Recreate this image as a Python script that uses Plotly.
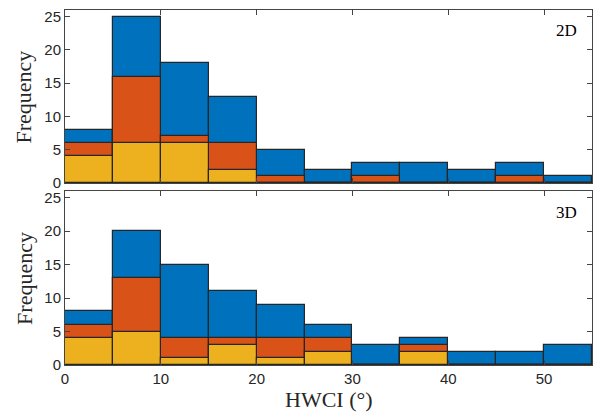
import plotly.graph_objects as go

bin_edges_start = [0, 5, 10, 15, 20, 25, 30, 35, 40, 45, 50]
bin_width = 5

# 2D panel (overlaid histograms)
blue_2d = [8, 25, 18, 13, 5, 2, 3, 3, 2, 3, 1]
orange_2d = [6, 16, 7, 6, 1, 0, 1, 0, 0, 1, 0]
yellow_2d = [4, 6, 6, 2, 0, 0, 0, 0, 0, 0, 0]

# 3D panel
blue_3d = [8, 20, 15, 11, 9, 6, 3, 4, 2, 2, 3]
orange_3d = [6, 13, 4, 4, 4, 4, 0, 3, 0, 0, 0]
yellow_3d = [4, 5, 1, 3, 1, 2, 0, 2, 0, 0, 0]

colors = ["#0072BD", "#D95319", "#EDB120"]
edge = "#262626"
centers = [s + bin_width / 2 for s in bin_edges_start]

fig = go.Figure()
for series, col in zip([blue_2d, orange_2d, yellow_2d], colors):
    fig.add_trace(go.Bar(x=centers, y=series, width=bin_width, marker_color=col,
                         marker_line=dict(color=edge, width=1.2),
                         xaxis="x", yaxis="y", showlegend=False))
for series, col in zip([blue_3d, orange_3d, yellow_3d], colors):
    fig.add_trace(go.Bar(x=centers, y=series, width=bin_width, marker_color=col,
                         marker_line=dict(color=edge, width=1.2),
                         xaxis="x2", yaxis="y2", showlegend=False))

tickfont = dict(family="Liberation Sans, Arial, sans-serif", size=15, color="#262626")
serif = "Liberation Serif, Times New Roman, serif"
axis_common = dict(showline=True, linecolor="#444444", linewidth=1, mirror="ticks",
                   ticks="inside", ticklen=5, tickcolor="#444444", tickwidth=1,
                   showgrid=False, zeroline=False, tickfont=tickfont, automargin=False)

title_font = dict(family=serif, size=22, color="#262626")

fig.update_layout(
    width=593, height=412,
    margin=dict(l=65, r=1, t=10, b=47),
    barmode="overlay",
    bargap=0,
    plot_bgcolor="white", paper_bgcolor="white",
    xaxis=dict(domain=[0, 1], range=[0, 55], anchor="y", showticklabels=False,
               tickvals=[0, 10, 20, 30, 40, 50], **axis_common),
    yaxis=dict(domain=[0.5127, 1], range=[0, 26], anchor="x",
               tickvals=[0, 5, 10, 15, 20, 25], **axis_common),
    xaxis2=dict(domain=[0, 1], range=[0, 55], anchor="y2",
                tickvals=[0, 10, 20, 30, 40, 50], **axis_common),
    yaxis2=dict(domain=[0, 0.49], range=[0, 26], anchor="x2",
                tickvals=[0, 5, 10, 15, 20, 25], **axis_common),
    annotations=[
        dict(text="2D", xref="x domain", yref="y domain", x=0.975, y=0.88,
             xanchor="right", yanchor="middle", showarrow=False,
             font=dict(family=serif, size=17, color="black")),
        dict(text="3D", xref="x2 domain", yref="y2 domain", x=0.975, y=0.875,
             xanchor="right", yanchor="middle", showarrow=False,
             font=dict(family=serif, size=17, color="black")),
        dict(text="Frequency", xref="paper", yref="paper", x=-0.078, y=0.756,
             xanchor="center", yanchor="middle", textangle=-90, showarrow=False,
             font=title_font),
        dict(text="Frequency", xref="paper", yref="paper", x=-0.078, y=0.245,
             xanchor="center", yanchor="middle", textangle=-90, showarrow=False,
             font=title_font),
        dict(text="HWCI (°)", xref="paper", yref="paper", x=0.5, y=-0.096,
             xanchor="center", yanchor="middle", showarrow=False,
             font=title_font),
    ],
)

fig.write_html("out.html", config={"displayModeBar": False},
               post_script="document.body.style.margin='0';document.body.style.overflow='hidden';")
